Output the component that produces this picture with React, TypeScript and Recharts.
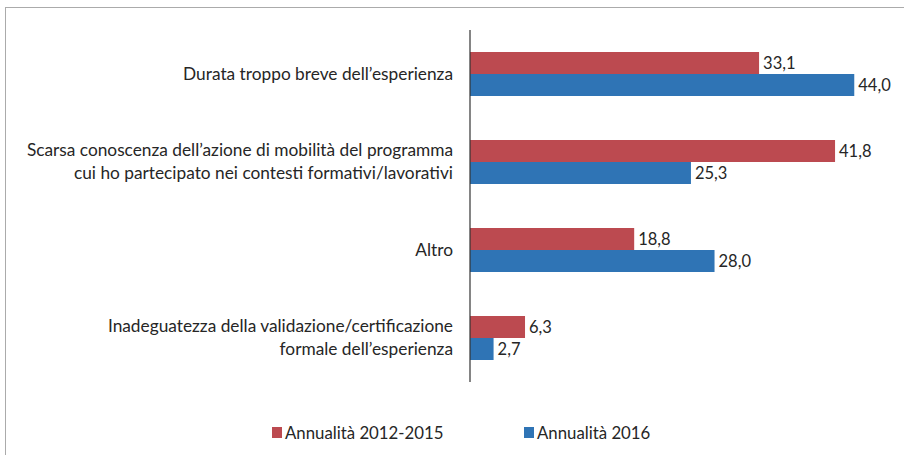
import React from "react";
import { BarChart, Bar, XAxis, YAxis, LabelList } from "recharts";

const categories: string[][] = [
  ["Durata troppo breve dell’esperienza"],
  ["Scarsa conoscenza dell’azione di mobilità del programma", "cui ho partecipato nei contesti formativi/lavorativi"],
  ["Altro"],
  ["Inadeguatezza della validazione/certificazione", "formale dell’esperienza"],
];
const series2012_2015: number[] = [33.1, 41.8, 18.8, 6.3];
const series2016: number[] = [44.0, 25.3, 28.0, 2.7];
const seriesNames = ["Annualità 2012-2015", "Annualità 2016"];
const colors = ["#BC4A50", "#2F74B5"];

const data = categories.map((lines, i) => ({
  name: lines.join("\n"),
  a: series2012_2015[i],
  b: series2016[i],
}));

const FONT = "Lato, 'Open Sans', sans-serif";
const TEXT = "#262626";

const fmt = (v: any) => Number(v).toFixed(1).replace(".", ",");

const CatTick = (props: any) => {
  const { x, y, payload } = props;
  const lines: string[] = String(payload.value).split("\n");
  const lh = 23;
  const start = -((lines.length - 1) * lh) / 2;
  return (
    <g>
      {lines.map((l, i) => (
        <text
          key={i}
          x={x - 9}
          y={y + start + i * lh}
          dy={5.5}
          textAnchor="end"
          fontFamily={FONT}
          fontSize={17.3}
          fill={TEXT}
        >
          {l}
        </text>
      ))}
    </g>
  );
};

const LegendBox = () => (
  <div style={{ position: "absolute", left: 0, top: 422, width: 904, height: 20, fontFamily: FONT, fontSize: 16.8, color: TEXT }}>
    {seriesNames.map((n, i) => (
      <div
        key={n}
        style={{ position: "absolute", left: i === 0 ? 272 : 524, top: 0, display: "flex", alignItems: "center", whiteSpace: "nowrap" }}
      >
        <span style={{ display: "inline-block", width: 10, height: 11, background: colors[i], marginRight: 3 }} />
        <span>{n}</span>
      </div>
    ))}
  </div>
);

export default function App() {
  return (
    <div style={{ position: "absolute", left: 0, top: 0, width: 904, height: 455, overflow: "hidden", background: "#fff" }}>
      <div
        style={{
          position: "absolute",
          left: 5,
          top: 7,
          width: 1000,
          height: 1000,
          border: "1px solid #ababab",
        }}
      />
      <div style={{ position: "absolute", left: 0, top: 0 }}>
        <BarChart
          width={904}
          height={455}
          data={data}
          layout="vertical"
          margin={{ top: 30, right: 41, bottom: 73, left: 0 }}
          barCategoryGap="25%"
          barGap={0}
        >
          <XAxis type="number" domain={[0, 45]} hide />
          <YAxis
            type="category"
            dataKey="name"
            width={470}
            axisLine={{ stroke: "#333", strokeWidth: 1.2 }}
            tickLine={false}
            tick={<CatTick />}
            interval={0}
          />
          <Bar dataKey="a" name={seriesNames[0]} fill={colors[0]} barSize={22} isAnimationActive={false}>
            <LabelList dataKey="a" position="right" offset={4} formatter={fmt} style={{ fontFamily: FONT, fontSize: 16.5, fill: TEXT }} />
          </Bar>
          <Bar dataKey="b" name={seriesNames[1]} fill={colors[1]} barSize={22} isAnimationActive={false}>
            <LabelList dataKey="b" position="right" offset={4} formatter={fmt} style={{ fontFamily: FONT, fontSize: 16.5, fill: TEXT }} />
          </Bar>
        </BarChart>
      </div>
      <LegendBox />
    </div>
  );
}
